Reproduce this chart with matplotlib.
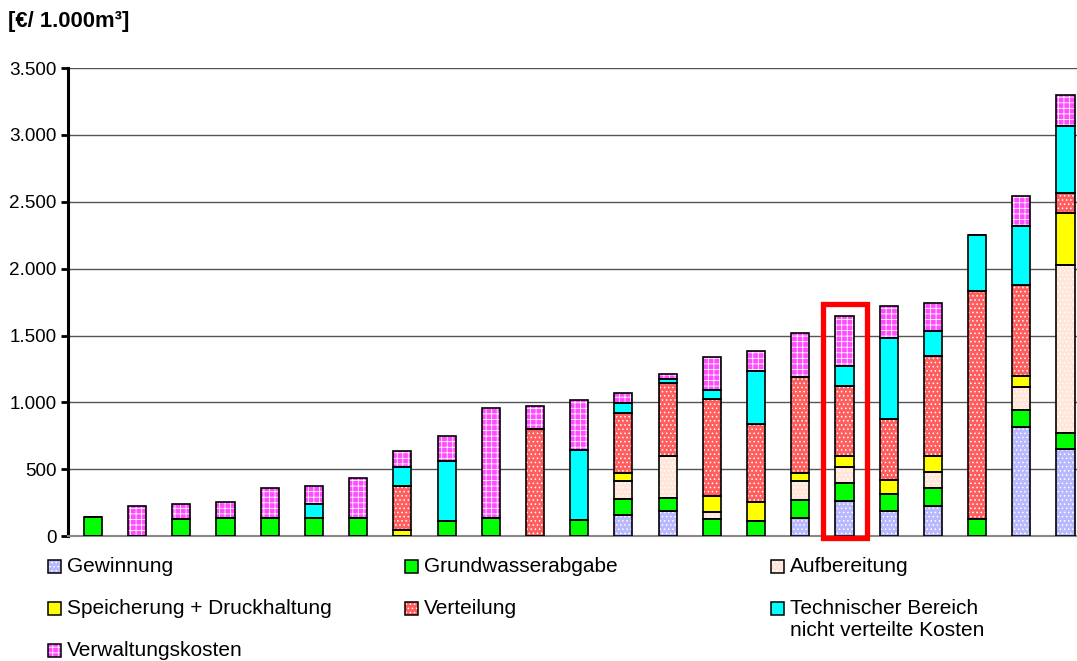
import matplotlib
matplotlib.use("Agg")
import matplotlib.pyplot as plt
from matplotlib.patches import Rectangle
from matplotlib.ticker import FuncFormatter, MultipleLocator
import numpy as np

plt.rcParams["font.family"] = ["Liberation Sans", "DejaVu Sans"]
plt.rcParams["hatch.linewidth"] = 0.6

# ── data (EUR / 1.000 m3, per utility, stacked bottom -> top) ──
gewinnung    = [0, 0, 0, 0, 0, 0, 0, 0, 0, 0, 0, 0, 155, 187, 0, 0, 137, 264, 187, 227, 0, 815, 648]
grundwasser  = [140, 0, 130, 137, 132, 132, 132, 0, 110, 132, 0, 122, 124, 100, 127, 110, 130, 130, 125, 130, 125, 127, 120]
aufbereitung = [0, 0, 0, 0, 0, 0, 0, 0, 0, 0, 0, 0, 135, 314, 55, 0, 144, 124, 0, 119, 0, 175, 1257]
speicherung  = [0, 0, 0, 0, 0, 0, 0, 45, 0, 0, 0, 0, 55, 0, 119, 144, 58, 80, 107, 122, 0, 82, 391]
verteilung   = [0, 0, 0, 0, 0, 0, 0, 331, 0, 0, 803, 0, 449, 546, 724, 581, 720, 526, 454, 751, 1705, 675, 149]
technisch    = [0, 0, 0, 0, 0, 107, 0, 142, 451, 0, 0, 523, 77, 25, 69, 397, 0, 150, 608, 184, 419, 442, 502]
verwaltung   = [0, 224, 112, 120, 229, 135, 304, 115, 189, 823, 169, 370, 75, 37, 247, 149, 327, 372, 239, 207, 0, 229, 229]

labels = ["Gewinnung", "Grundwasserabgabe", "Aufbereitung",
          "Speicherung + Druckhaltung", "Verteilung",
          "Technischer Bereich\nnicht verteilte Kosten", "Verwaltungskosten"]
series = [gewinnung, grundwasser, aufbereitung, speicherung, verteilung, technisch, verwaltung]
colors = ["#B8B8FF", "#00FF00", "#FFE6D8", "#FFFF00", "#FF5E5E", "#00FFFF", "#FF4CFF"]
hatches = ["....", None, "....", None, "....", None, "+++"]

HIGHLIGHT = 17  # bar framed in red

fig = plt.figure(figsize=(10.77, 6.61), dpi=100)
ax = fig.add_axes([0.0631, 0.189, 0.9369, 0.708])

x = np.arange(len(gewinnung))
bottom = np.zeros(len(x))
for vals, col, h in zip(series, colors, hatches):
    vals = np.array(vals, dtype=float)
    # fill with a white fine pattern, then a black outline on top
    ax.bar(x, vals, width=0.41, bottom=bottom, facecolor=col, edgecolor="white",
           hatch=h, linewidth=0, zorder=3)
    ax.bar(x, vals, width=0.41, bottom=bottom, fill=False, edgecolor="black",
           linewidth=1.2, zorder=4)
    bottom += vals

ax.set_xlim(-0.565, 22.26)
ax.set_ylim(0, 3500)
ax.yaxis.set_major_locator(MultipleLocator(500))
ax.yaxis.set_major_formatter(FuncFormatter(lambda v, _: f"{v:,.0f}".replace(",", ".")))
ax.set_xticks([])
ax.tick_params(axis="y", direction="out", length=5, width=2, labelsize=13.6, pad=3)
ax.yaxis.grid(True, color="#555555", linewidth=1.0, zorder=0)
for s in ["top", "right"]:
    ax.spines[s].set_visible(False)
ax.spines["left"].set_linewidth(2.2)
ax.spines["bottom"].set_color("#888888")
ax.spines["bottom"].set_linewidth(1.5)

# red frame around the highlighted bar
ax.add_patch(Rectangle((HIGHLIGHT - 0.475, -15), 0.975, 1750, fill=False,
                       edgecolor="#FF0000", linewidth=3.8, clip_on=False, zorder=5))

fig.text(8 / 1077, 1 - 22 / 661, "[€/ 1.000m³]", fontsize=15.8, fontweight="bold",
         va="center", ha="left")

# legend laid out row by row as in the original
W, H = 1077, 661
col_x = [48, 405, 771]
row_y = [566, 608, 650]
slots = [(0, 0), (0, 1), (0, 2), (1, 0), (1, 1), (1, 2), (2, 0)]
for (r, c), lab, col, h in zip(slots, labels, colors, hatches):
    px, py = col_x[c], row_y[r]
    box = ((px / W, (H - py - 6.5) / H), 13 / W, 13 / H)
    fig.patches.append(Rectangle(*box, transform=fig.transFigure, facecolor=col,
                                 edgecolor="white", hatch=h, linewidth=0))
    fig.patches.append(Rectangle(*box, transform=fig.transFigure, fill=False,
                                 edgecolor="black", linewidth=1.1))
    if "\n" in lab:
        fig.text((px + 19) / W, (H - py + 9) / H, lab, fontsize=15,
                 va="top", ha="left", linespacing=1.22)
    else:
        fig.text((px + 19) / W, (H - py) / H, lab, fontsize=15,
                 va="center", ha="left")

fig.savefig("out.png", dpi=100, facecolor="white")
